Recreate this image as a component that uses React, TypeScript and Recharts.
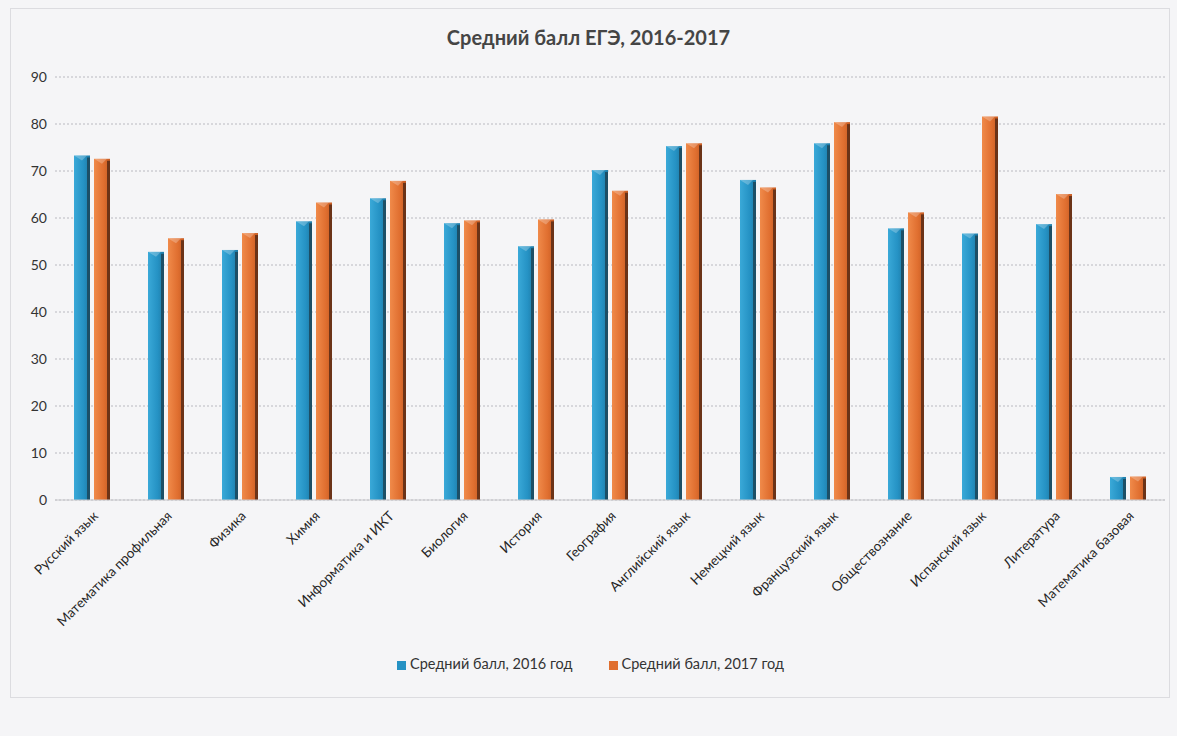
import React from 'react';
import { BarChart, Bar, XAxis, YAxis, CartesianGrid, Legend } from 'recharts';

// Предметы и средние баллы
const predmety = [
  'Русский язык',
  'Математика профильная',
  'Физика',
  'Химия',
  'Информатика и ИКТ',
  'Биология',
  'История',
  'География',
  'Английский язык',
  'Немецкий язык',
  'Французский язык',
  'Обществознание',
  'Испанский язык',
  'Литература',
  'Математика базовая',
];
const ball2016 = [73.3, 52.8, 53.2, 59.3, 64.2, 58.9, 54.0, 70.2, 75.3, 68.1, 75.9, 57.8, 56.7, 58.7, 4.9];
const ball2017 = [72.6, 55.7, 56.8, 63.3, 67.9, 59.5, 59.7, 65.8, 75.9, 66.5, 80.4, 61.2, 81.6, 65.1, 5.0];
const yTicks = [0, 10, 20, 30, 40, 50, 60, 70, 80, 90];

const data = predmety.map((p, i) => ({ predmet: p, b2016: ball2016[i], b2017: ball2017[i] }));

const FONT = 'Lato, "Open Sans", sans-serif';

function BarShape(props: any) {
  const { x, y, width, height, kind } = props;
  if (!height || height <= 0) return null;
  const id = kind === 'blue' ? 'gradBlue' : 'gradOrange';
  const edge = kind === 'blue' ? '#1d4f66' : '#6b3318';
  return (
    <g>
      <rect x={x} y={y} width={width} height={height} fill={`url(#${id})`} />
      <rect x={x + width - 3} y={y + 2} width={3} height={height - 2} fill={edge} />
      <polygon
        points={`${x},${y} ${x + width - 3},${y} ${x + width / 2},${y + 5}`}
        fill="#ffffff"
        opacity={0.25}
      />
    </g>
  );
}

function RotTick(props: any) {
  const { x, y, payload } = props;
  return (
    <g transform={`translate(${x + 4},${y + 6})`}>
      <text
        textAnchor="end"
        transform="rotate(-45)"
        fontSize={13.5}
        fill="#262626"
        fontFamily={FONT}
        dy={4}
      >
        {payload.value}
      </text>
    </g>
  );
}

export default function App() {
  return (
    <div
      style={{
        position: 'absolute',
        left: 0,
        top: 0,
        width: 1177,
        height: 736,
        background: '#f5f5f7',
        fontFamily: FONT,
      }}
    >
      <div
        style={{
          position: 'absolute',
          left: 10,
          top: 8,
          width: 1158,
          height: 688,
          border: '1px solid #dcdce0',
        }}
      />
      <div
        style={{
          position: 'absolute',
          top: 25,
          left: 0,
          width: 1177,
          textAlign: 'center',
          fontSize: 20,
          fontWeight: 'bold',
          color: '#454545',
        }}
      >
        Средний балл ЕГЭ, 2016-2017
      </div>
      <BarChart
        width={1177}
        height={736}
        data={data}
        margin={{ top: 77, right: 12, left: 0, bottom: 69 }}
        barSize={16}
        barGap={4}
      >
        <defs>
          <linearGradient id="gradBlue" x1="0" y1="0" x2="1" y2="0">
            <stop offset="0%" stopColor="#3aa9d8" />
            <stop offset="60%" stopColor="#2592c4" />
            <stop offset="100%" stopColor="#1f7ba6" />
          </linearGradient>
          <linearGradient id="gradOrange" x1="0" y1="0" x2="1" y2="0">
            <stop offset="0%" stopColor="#f08a4a" />
            <stop offset="60%" stopColor="#e06f30" />
            <stop offset="100%" stopColor="#c85d24" />
          </linearGradient>
        </defs>
        <CartesianGrid vertical={false} stroke="#b9b9c0" strokeDasharray="2 2" />
        <XAxis
          dataKey="predmet"
          interval={0}
          height={150}
          tick={<RotTick />}
          tickLine={false}
          axisLine={{ stroke: '#c8c8cc' }}
        />
        <YAxis
          width={55}
          domain={[0, 90]}
          ticks={yTicks}
          tick={{ fill: '#333333', fontSize: 14, fontFamily: FONT }}
          axisLine={false}
          tickLine={false}
        />
        <Legend
          verticalAlign="bottom"
          align="center"
          iconType="square"
          iconSize={9}
          wrapperStyle={{ top: 655, left: 40, width: 1137, fontSize: 14.5, fontFamily: FONT }}
          formatter={(v: string) => (
            <span style={{ color: '#333333', marginRight: 26 }}>{v}</span>
          )}
        />
        <Bar
          dataKey="b2016"
          name="Средний балл, 2016 год"
          fill="#2592c4"
          legendType="square"
          shape={<BarShape kind="blue" />}
          isAnimationActive={false}
        />
        <Bar
          dataKey="b2017"
          name="Средний балл, 2017 год"
          fill="#e06f30"
          legendType="square"
          shape={<BarShape kind="orange" />}
          isAnimationActive={false}
        />
      </BarChart>
    </div>
  );
}
